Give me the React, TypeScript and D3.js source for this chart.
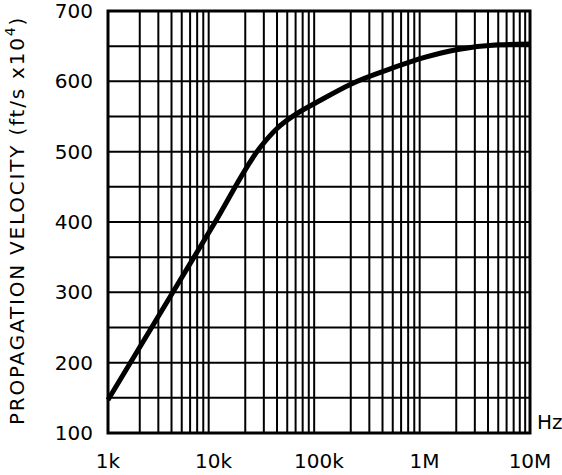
import React from "react";
import * as d3 from "d3";

// Frequency sweep (Hz) and measured propagation velocity (ft/s x10^4)
const frequencies = [1e3, 1e4, 2.8e4, 4e4, 6e4, 1e5, 2e5, 5e5, 1e6, 2e6, 5e6, 1e7];
const velocities = [147, 396, 507, 533, 553, 572, 596, 619, 634, 645, 652, 653];

const yTicks = [100, 200, 300, 400, 500, 600, 700];
const yGrid = [100, 150, 200, 250, 300, 350, 400, 450, 500, 550, 600, 650, 700];
const xTicks = [1e3, 1e4, 1e5, 1e6, 1e7];
const xTickLabels = ["1k", "10k", "100k", "1M", "10M"];

const W = 562;
const H = 475;
const left = 108;
const right = 530;
const top = 11;
const bottom = 433;
const font = "'DejaVu Sans', sans-serif";

export default function App() {
  const x = d3.scaleLog().domain([1e3, 1e7]).range([left, right]);
  const y = d3.scaleLinear().domain([100, 700]).range([bottom, top]);

  const minorX: number[] = [];
  for (let d = 1e3; d < 1e7; d *= 10) {
    for (let m = 2; m <= 9; m++) minorX.push(d * m);
  }

  const line = d3
    .line<number>()
    .x((_, i) => x(frequencies[i]))
    .y((v) => y(v))
    .curve(d3.curveMonotoneX);

  return (
    <svg width={W} height={H} style={{ position: "absolute", left: 0, top: 0, background: "#fff" }}>
      {/* horizontal grid */}
      {yGrid.map((v) => (
        <line key={"h" + v} x1={left} x2={right} y1={y(v)} y2={y(v)} stroke="#000" strokeWidth={2} />
      ))}
      {/* vertical log grid */}
      {minorX.map((f) => (
        <line key={"v" + f} x1={x(f)} x2={x(f)} y1={top} y2={bottom} stroke="#000" strokeWidth={2} />
      ))}
      {/* frame */}
      <rect x={left} y={top} width={right - left} height={bottom - top} fill="none" stroke="#000" strokeWidth={3} />

      {/* curve */}
      <path d={line(velocities) || ""} fill="none" stroke="#000" strokeWidth={5} strokeLinejoin="round" />

      {/* y tick labels */}
      {yTicks.map((v) => (
        <text key={"yt" + v} x={93} y={y(v) + 7} textAnchor="end" fontFamily={font} fontSize={20} fill="#000">
          {v}
        </text>
      ))}

      {/* x tick labels */}
      {xTicks.map((f, i) => (
        <text key={"xt" + f} x={x(f)} y={468} textAnchor="middle" fontFamily={font} fontSize={20} fill="#000">
          {xTickLabels[i]}
        </text>
      ))}

      <text x={537} y={429} fontFamily={font} fontSize={20} fill="#000">
        Hz
      </text>

      {/* y axis title */}
      <text
        transform={`translate(23.5, ${(427 + 14) / 2}) rotate(-90)`}
        textAnchor="middle"
        fontFamily={font}
        fontSize={20}
        letterSpacing={1.8}
        fill="#000"
      >
        PROPAGATION VELOCITY (ft/s x10
        <tspan dy={-9} fontSize={14}>4</tspan>
        <tspan dy={9}>)</tspan>
      </text>
    </svg>
  );
}
